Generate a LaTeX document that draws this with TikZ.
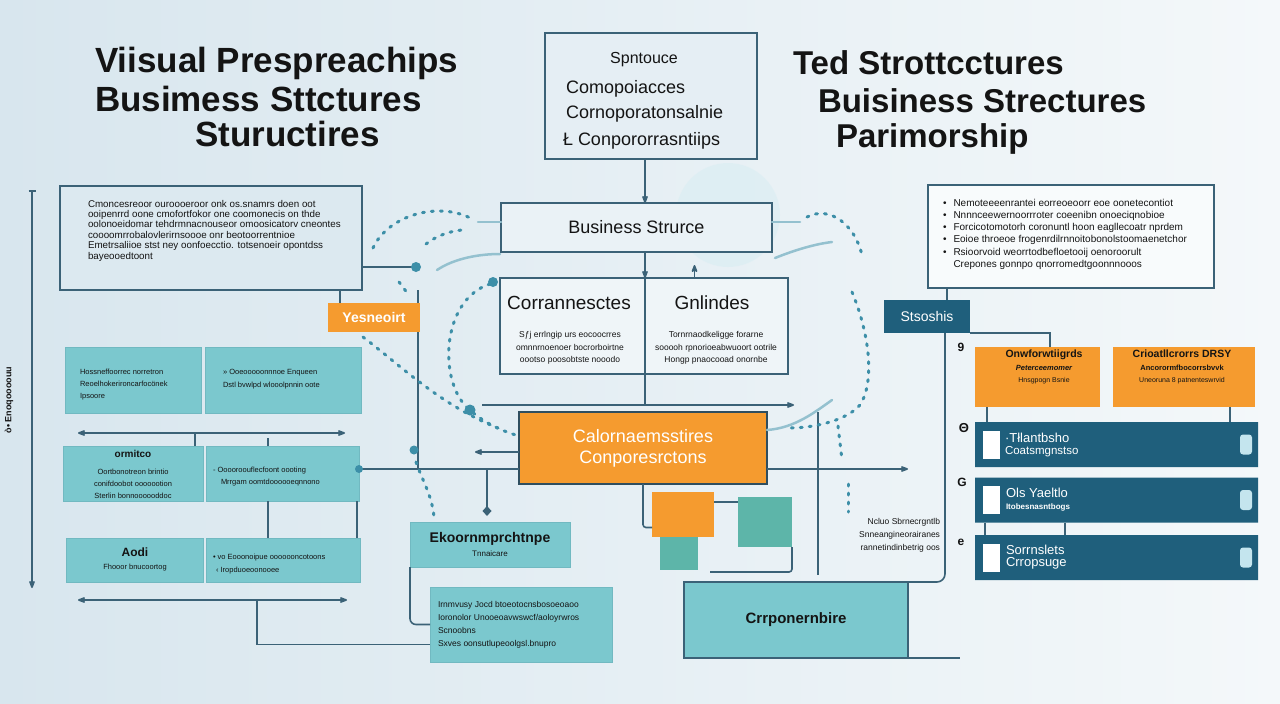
\documentclass[tikz,border=0pt]{standalone}
\usepackage{fontspec}
\setmainfont{Liberation Sans}
\usepackage{tikz}
\usetikzlibrary{arrows.meta, positioning, shapes.misc}

\definecolor{ink}{HTML}{141414}
\definecolor{lineblue}{HTML}{3B6277}
\definecolor{paleblue}{HTML}{DCE9F0}
\definecolor{tealfill}{HTML}{7BC8CE}
\definecolor{sqteal}{HTML}{5DB5A9}
\definecolor{orng}{HTML}{F59B2F}
\definecolor{bannerblue}{HTML}{1F5F7C}
\definecolor{dotc}{HTML}{3D8FA8}
\definecolor{pillc}{HTML}{C4E5EE}
\definecolor{bgleft}{HTML}{D8E6EE}
\definecolor{bgright}{HTML}{F4F8FA}

\newcommand{\fsz}[2]{\fontsize{#1}{#2}\selectfont}

\begin{document}
\begin{tikzpicture}[x=1pt,y=-1pt,>={Stealth[round]},
    every node/.style={inner sep=0pt,outer sep=0pt,text=ink},
    dims/.style n args={2}{minimum width=#1pt,minimum height=#2pt},
    title/.style={anchor=base west,font=\fsz{35}{38}\bfseries},
    panel/.style={draw=lineblue,line width=2pt,fill=paleblue},
    tealbox/.style={fill=tealfill,draw=tealfill!85!lineblue,line width=0.8pt},
    orangebox/.style={fill=orng},
    banner/.style={chamfered rectangle,chamfered rectangle corners={north east,south east},
        chamfered rectangle xsep=9pt,fill=bannerblue,dims={283}{45}},
    small/.style={font=\fsz{8.5}{10.3},align=left},
    link/.style={draw=lineblue,line width=1.6pt},
    arr/.style={link,->},
    dots/.style={draw=dotc,line width=3pt,line cap=round,dash pattern=on 2pt off 7pt},
    swoosh/.style={draw=dotc!55,line width=2.5pt,line cap=round},
    drop/.style={fill=dotc},
    numglyph/.style={font=\fsz{12}{12}\bfseries}]

  \useasboundingbox (0,0) rectangle (1280,704);
  \shade[left color=bgleft,right color=bgright] (0,0) rectangle (1280,704);
  \fill[pillc!70,opacity=.5] (728,215) circle (52);

  % headings
  \node[title] (tl1) at (95,72)  {Viisual Prespreachips};
  \node[title] (tl2) at (95,111) {Busimess Sttctures};
  \node[title] (tl3) at (195,146) {Stuructires};
  \node[title,font=\fsz{33}{36}\bfseries] (tr1) at (793,74)  {Ted Strottcctures};
  \node[title,font=\fsz{33}{36}\bfseries] (tr2) at (818,112) {Buisiness Strectures};
  \node[title,font=\fsz{33}{36}\bfseries] (tr3) at (836,147) {Parimorship};

  % top centre box
  \node[panel,fill=paleblue!75!white,dims={212}{126}] (srcbox) at (651,96) {};
  \node[anchor=base,font=\fsz{16}{16}] (src1) at (644,63) {Spntouce};
  \node[anchor=base west,font=\fsz{18}{18}] (src2) at (566,93)  {Comopoiacces};
  \node[anchor=base west,font=\fsz{18}{18}] (src3) at (566,118) {Cornoporatonsalnie};
  \node[anchor=base west,font=\fsz{18}{18}] (src4) at (563,145) {Ł Conpororrasntiips};

  % text panels
  \node[panel,dims={302}{104}] (ltext) at (211,238) {};
  \node[small,anchor=north west,font=\fsz{9.8}{10.4}] (lttxt) at (88,200)
    {Cmoncesreoor ouroooeroor onk os.snamrs doen oot\\
     ooipenrrd oone cmofortfokor one coomonecis on thde\\
     oolonoeidomar tehdrmnacnouseor omoosicatorv cneontes\\
     coooomrrobalovlerirnsoooe onr beotoorrentnioe\\
     Emetrsaliioe stst ney oonfoecctio. totsenoeir opontdss\\
     bayeooedtoont};
  \node[panel,fill=white!80!paleblue,dims={286}{103}] (rtext) at (1071,236.5) {};
  \node[small,anchor=north west,font=\fsz{10}{12.2}] (rttxt) at (943,199)
    {\textbullet\hspace{7pt}Nemoteeeenrantei eorreoeoorr eoe oonetecontiot\\
     \textbullet\hspace{7pt}Nnnnceewernoorrroter coeenibn onoeciqnobioe\\
     \textbullet\hspace{7pt}Forcicotomotorh coronuntl hoon eagllecoatr nprdem\\
     \textbullet\hspace{7pt}Eoioe throeoe frogenrdilrnnoitobonolstoomaenetchor\\
     \textbullet\hspace{7pt}Rsioorvoid weorrtodbefloetooij oenoroorult\\
     \hphantom{\textbullet}\hspace{7pt}Crepones gonnpo qnorromedtgoonnnooos};

  % centre
  \node[panel,fill=paleblue!60!white,dims={271}{49},font=\fsz{18}{18}] (bs) at (636.5,227.5) {Business Strurce};
  \node[panel,fill=paleblue!45!white,dims={145}{96}] (cl) at (572.5,326) {};
  \node[panel,fill=paleblue!45!white,dims={143}{96}] (cr) at (716.5,326) {};
  \node[font=\fsz{19}{19}] (clhead) at (569,303) {Corrannesctes};
  \node[font=\fsz{19}{19}] (crhead) at (712,303) {Gnlindes};
  \node[small,align=center,font=\fsz{8.5}{12.5}] (clsub) at (570,348)
    {Sƒj errlngip urs eocoocrres\\ omnnrnoenoer bocrorboirtne\\ oootso poosobtste nooodo};
  \node[small,align=center,font=\fsz{8.5}{12.5}] (crsub) at (716,348)
    {Tornrnaodkeligge forarne\\ sooooh rpnorioeabwuoort ootrile\\ Hongp pnaocooad onornbe};

  \node[orangebox,draw=lineblue!80!black,line width=2pt,dims={248}{72},text=white,
        font=\fsz{18}{21},align=center] (corp) at (643,448) {Calornaemsstires\\Conporesrctons};
  \node[orangebox,dims={62}{45}] (sq1) at (683,514.5) {};
  \node[fill=sqteal,dims={38}{33}] (sq2) at (679,553.5) {};
  \node[fill=sqteal,dims={54}{50}] (sq3) at (765,522) {};

  \node[tealbox,dims={160}{45},align=center] (ekb) at (490,544.5)
    {{\fsz{14}{16}\bfseries Ekoornmprchtnpe}\\[2pt]{\fsz{8}{9}Tnnaicare}};
  \node[tealbox,dims={182}{75}] (nb) at (521,624.5) {};
  \node[small,anchor=north west,font=\fsz{8.5}{13}] (nbtxt) at (438,601)
    {Irnmvusy Jocd btoeotocnsbosoeoaoo\\ Ioronolor Unooeoavwswcf/aoloyrwros\\ Scnoobns\\ Sxves oonsutlupeoolgsl.bnupro};
  \node[tealbox,draw=lineblue,line width=2pt,dims={224}{76},font=\fsz{15}{18}\bfseries] (crb) at (796,620) {Crrponernbire};
  \node[small,align=right,anchor=east,font=\fsz{8.5}{13}] (ntext) at (940,535)
    {Ncluo Sbrnecrgntlb\\Snneangineorairanes\\rannetindinbetrig oos};

  % left column
  \node[orangebox,dims={92}{29},text=white,font=\fsz{14}{14}\bfseries] (yas) at (374,317.5) {Yesneoirt};
  \node[tealbox,dims={136}{66}] (A) at (133,380) {};
  \node[tealbox,dims={156}{66}] (B) at (283,380) {};
  \node[tealbox,dims={140}{55}] (C) at (133,473.5) {};
  \node[tealbox,dims={153}{55}] (D) at (282.5,473.5) {};
  \node[tealbox,dims={137}{44}] (E) at (134.5,560) {};
  \node[tealbox,dims={154}{44}] (F) at (283,560) {};
  \node[small,anchor=north west,font=\fsz{7.5}{12}] (Atxt) at (80,369)
    {Hossneffoorrec norretron\\ Reoelhokerironcarfocönek\\ Ipsoore};
  \node[small,anchor=north west,font=\fsz{7.5}{13}] (Btxt) at (223,369)
    {» Ooeooooonnnoe Enqueen\\ Dstl bvwlpd wlooolpnnin oote};
  \node[font=\fsz{10}{10}\bfseries] (Ctitle) at (133,454) {ormitco};
  \node[small,align=center,font=\fsz{7.5}{12}] (Ctxt) at (133,484)
    {Oortbonotreon brintio\\ conifdoobot ooooootion\\ Sterlin bonnoooooddoc};
  \node[small,anchor=north west,font=\fsz{7.5}{12}] (Dtxt) at (213,467)
    {- Ooooroouflecfoont oooting\\ \hspace{8pt}Mrrgam oomtdoooooeqnnono};
  \node[font=\fsz{12}{12}\bfseries] (Etitle) at (135,552) {Aodi};
  \node[font=\fsz{7.5}{9}] (Etxt) at (135,568) {Fhooor bnucoortog};
  \node[small,anchor=north west,font=\fsz{7.5}{13}] (Ftxt) at (213,554)
    {• vo Eooonoipue ooooooncotoons\\ \hspace{3pt}‹ Iropduoeoonooee};
  \node[rotate=90,font=\fsz{9}{9}\bfseries] (sidelbl) at (9,400) {ò• Enoqoooouu};

  % right column
  \node[fill=bannerblue,dims={86}{33},text=white,font=\fsz{14}{14}] (stso) at (927,316.5) {Stsoshis};
  \node[orangebox,dims={125}{60}] (G) at (1037.5,377) {};
  \node[orangebox,dims={142}{60}] (H) at (1184,377) {};
  \node[align=center,anchor=north] (Gtxt) at (1044,350)
    {{\fsz{10.5}{12}\bfseries Onwforwtiigrds}\\[1pt]{\fsz{7.5}{10}\bfseries\itshape Peterceemomer}\\{\fsz{7}{9}Hnsgpogn Bsnie}};
  \node[align=center,anchor=north] (Htxt) at (1182,350)
    {{\fsz{10.5}{12}\bfseries Crioatllcrorrs DRSY}\\[1pt]{\fsz{7.5}{10}\bfseries Ancorormfbocorrsbvvk}\\{\fsz{7}{9}Uneoruna 8 patnenteswrvid}};
  \node[banner] (b1) at (1116.5,444.5) {};
  \node[banner] (b2) at (1116.5,500) {};
  \node[banner] (b3) at (1116.5,557.5) {};
  \foreach \b in {b1,b2,b3}{
    \fill[white] ([xshift=8pt,yshift=14pt]\b.west) rectangle ([xshift=25pt,yshift=-14pt]\b.west);
    \fill[pillc,rounded corners=3pt] ([xshift=-18pt,yshift=10pt]\b.east) rectangle ([xshift=-6pt,yshift=-10pt]\b.east);
  }
  \node[anchor=west,align=left,text=white] (b1t) at ([xshift=30pt]b1.west)
    {{\fsz{13}{15}·Tłlantbsho}\\{\fsz{11.5}{13}Coatsmgnstso}};
  \node[anchor=west,align=left,text=white] (b2t) at ([xshift=31pt]b2.west)
    {{\fsz{13}{15}Ols Yaeltlo}\\{\fsz{8}{10}\bfseries Itobesnasntbogs}};
  \node[anchor=west,align=left,text=white] (b3t) at ([xshift=31pt]b3.west)
    {{\fsz{13}{15}Sorrnslets}\\{\fsz{13}{15}Crropsuge}};
  \node[numglyph] (g1) at (961,347) {9};
  \node[numglyph,font=\fsz{13}{13}\bfseries] (g2) at (964,428) {Θ};
  \node[numglyph] (g3) at (962,482) {G};
  \node[numglyph] (g4) at (961,542) {e};

  % connectors, centre
  \draw[arr] (srcbox.south -| cl.east) -- (bs.north -| cl.east);
  \draw[arr] (bs.south -| cl.east) -- (cl.north east);
  \draw[arr] ([xshift=-22pt]cr.north) -- ++(0,-13);
  \draw[link] (cl.south east) -- ++(0,30);
  \coordinate (hl1) at (482,405);
  \coordinate (hl2) at (794,405);
  \draw[arr] (hl1) -- (hl2);
  \coordinate (jl) at (487,469);
  \coordinate (jr) at (908,469);
  \draw[link] ([yshift=4.5pt]D.east) -- (jl) -- ([yshift=-21pt]corp.west);
  \draw[arr] ([yshift=-21pt]corp.east) -- (jr);
  \fill[drop] ([yshift=4.5pt]D.east) circle (4);
  \draw[arr] ([yshift=-4pt]corp.west) -- ++(-44,0);
  \draw[link,-{Diamond[length=10pt,width=9pt]}] (jl) -- ++(0,47);
  \draw[link,rounded corners=3pt] (corp.south) |- ([yshift=-13pt]sq1.west);
  \draw[link] ([yshift=12.5pt]sq1.east) -- ([yshift=20pt]sq3.west);
  \draw[link,rounded corners=3pt] (sq3.south east) |- ([xshift=12pt,yshift=-2pt]sq2.south east);
  \draw[link,rounded corners=6pt] (ekb.south west) |- (nb.west);
  \coordinate (vr1) at (818,412);
  \coordinate (vr2) at (818,575);
  \draw[link] (vr1) -- (vr2);
  \coordinate (cr3) at (960,658);
  \draw[link] (crb.south east) -- (cr3);

  % connectors, left
  \draw[link] ([xshift=-34pt]yas.north) -- ++(0,-13);
  \draw[link] ([xshift=44pt]yas.north) -- ++(0,-13);
  \draw[link] ([xshift=44pt]yas.south) -- ++(0,137);
  \coordinate (drop1) at (416,267);
  \draw[link] ([yshift=-29pt]ltext.east) -- (drop1);
  \fill[drop] (drop1) circle (5);
  \coordinate (la1) at (78,433);
  \coordinate (la2) at (345,433);
  \draw[link,<->] (la1) -- (la2);
  \coordinate (lb1) at (78,600);
  \coordinate (lb2) at (347,600);
  \draw[link,<->] (lb1) -- (lb2);
  \draw[link] ([xshift=62pt]C.north) -- ++(0,-13);
  \draw[link] ([xshift=-14.5pt]D.north) -- ++(0,-8);
  \draw[link] ([xshift=-14.5pt]D.south) -- ++(0,37);
  \draw[link] ([xshift=-2pt]D.south east) -- ++(0,37);
  \coordinate (lb3) at (257,600);
  \draw[link] (lb3) |- ([yshift=-20pt]nb.west);
  \coordinate (va1) at (32,190);
  \coordinate (va2) at (32,588);
  \draw[link,{Bar[width=7pt]}-{Stealth[round]}] (va1) -- (va2);

  % connectors, right
  \draw[link] ([xshift=20pt]stso.north) -- ++(0,-12);
  \draw[link,rounded corners=8pt] ([xshift=18pt]stso.south) |- (crb.north east);
  \draw[link] (stso.south east) -| ([xshift=12.5pt]G.north);
  \draw[link] ([xshift=-50.5pt]G.south) -- ++(0,15);
  \draw[link] ([xshift=46pt]H.south) -- ++(0,15);
  \draw[link] ([xshift=-131.5pt]b2.south) -- ++(0,12);
  \draw[link] ([xshift=-51.5pt]b2.south) -- ++(0,12);

  % dotted flow curves
  \draw[dots] (373,248) .. controls (388,215) and (440,200) .. (474,220);
  \draw[swoosh] (478,222) -- ([yshift=5.5pt]bs.west);
  \draw[dots] (426,244) .. controls (436,236) and (450,231) .. (462,230);
  \draw[swoosh] (437,270) .. controls (455,258) and (480,254) .. (500,254);
  \draw[dots] (399,282) -- (408,294);
  \draw[dots] (490,284) .. controls (440,300) and (438,385) .. (470,410) .. controls (485,424) and (505,432) .. (519,436);
  \fill[drop] (493,282) circle (5);
  \fill[drop] (470,410) circle (5.5);
  \draw[dots] (363,337) .. controls (400,365) and (440,405) .. (498,428);
  \fill[drop] (414,450) circle (4.5);
  \draw[dots] (416,462) .. controls (422,480) and (432,495) .. (434,517);
  \draw[swoosh] ([yshift=5.5pt]bs.east) -- (800,222);
  \draw[dots] (807,217) .. controls (830,205) and (855,225) .. (862,255);
  \draw[swoosh] (775,258) .. controls (795,250) and (815,244) .. (832,242);
  \draw[dots] (852,292) .. controls (868,330) and (876,380) .. (860,405) .. controls (845,422) and (810,428) .. (790,428);
  \draw[swoosh] ([yshift=18pt]corp.east) .. controls (795,428) and (815,412) .. (832,400);
  \draw[dots] (838,426) -- (842,460);
  \draw[dots] (848,484) -- (848,512);
\end{tikzpicture}
\end{document}
